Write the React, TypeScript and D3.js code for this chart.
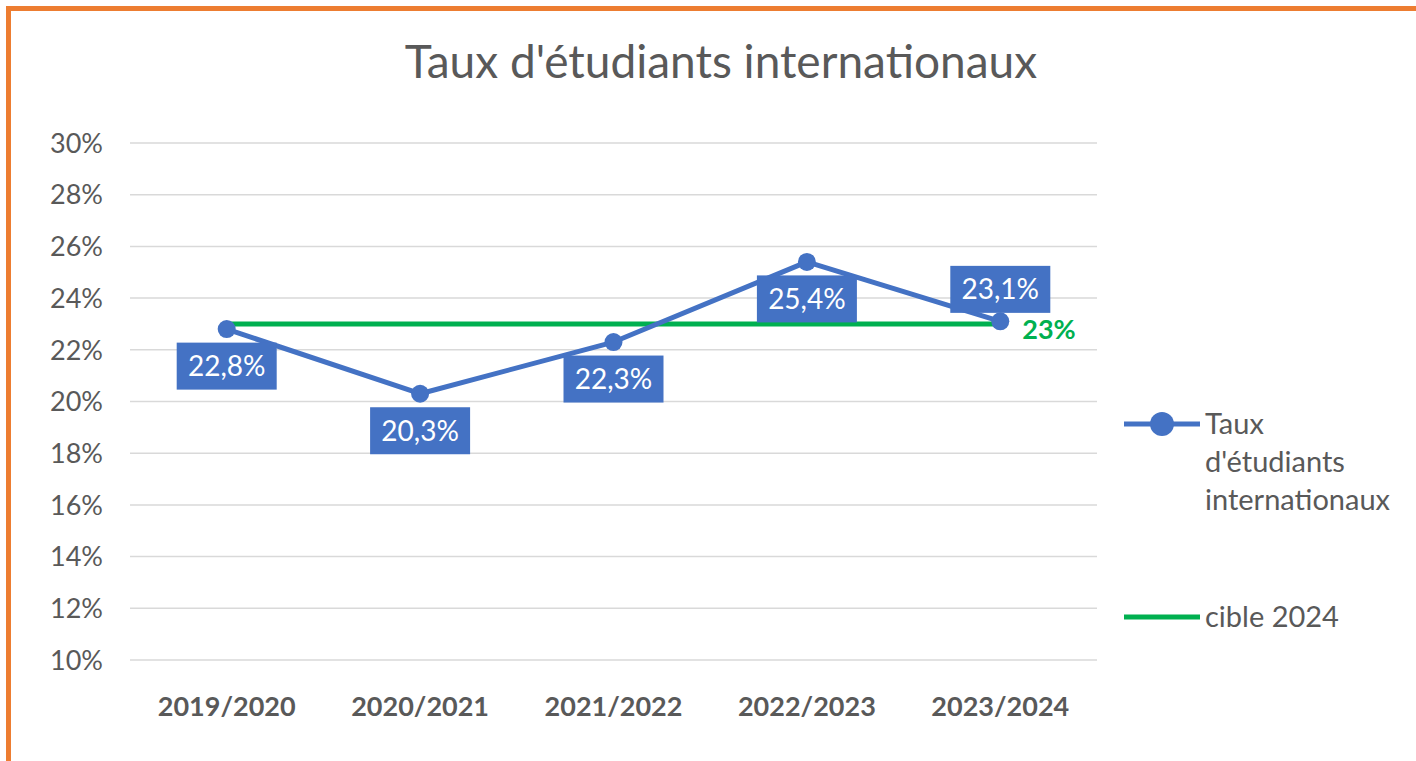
import { useEffect } from 'react';
import * as d3 from 'd3';

const categories = ['2019/2020', '2020/2021', '2021/2022', '2022/2023', '2023/2024'];
const rates = [22.8, 20.3, 22.3, 25.4, 23.1];
const rateLabels = ['22,8%', '20,3%', '22,3%', '25,4%', '23,1%'];
const labelAbove = [false, false, false, false, true];
const target = [23, 23, 23, 23, 23];
const yTicks = [10, 12, 14, 16, 18, 20, 22, 24, 26, 28, 30];

const W = 1416;
const H = 761;
const FONT = 'Lato, "Open Sans", sans-serif';
const BLUE = '#4472C4';
const GREEN = '#00B050';
const GREY = '#595959';

export default function App() {
  useEffect(() => {
    document.body.style.margin = '0';
  }, []);

  const x = d3.scaleBand().domain(categories).range([130, 1097]);
  const y = d3.scaleLinear().domain([10, 30]).range([660, 143]);
  const cx = (i: number) => (x(categories[i]) ?? 0) + x.bandwidth() / 2;

  const line = d3
    .line<number>()
    .x((_, i) => cx(i))
    .y((v) => y(v));

  const boxW = 100;
  const boxH = 47;

  return (
    <svg width={W} height={H} style={{ display: 'block', background: '#fff' }} fontFamily={FONT}>
      <rect x={8.5} y={8.5} width={W + 20} height={H + 20} fill="#fff" stroke="#ED7D31" strokeWidth={5} />

      <text x={721} y={78} textAnchor="middle" fontSize={46} fill={GREY}>
        Taux d'étudiants internationaux
      </text>

      {yTicks.map((t) => (
        <g key={t}>
          <line x1={130} x2={1097} y1={y(t)} y2={y(t)} stroke="#D9D9D9" strokeWidth={1.5} />
          <text x={103} y={y(t)} dy="0.36em" textAnchor="end" fontSize={27} fill={GREY}>
            {t}%
          </text>
        </g>
      ))}

      {categories.map((c, i) => (
        <text key={c} x={cx(i)} y={706} dy="0.36em" textAnchor="middle" fontSize={27} fontWeight="bold" fill={GREY}>
          {c}
        </text>
      ))}

      <path d={line(target) || ''} fill="none" stroke={GREEN} strokeWidth={5} />
      <text x={cx(4) + 22} y={y(target[4])} dy="0.55em" fontSize={27} fontWeight="bold" fill={GREEN}>
        23%
      </text>

      <path d={line(rates) || ''} fill="none" stroke={BLUE} strokeWidth={5} strokeLinejoin="round" />
      {rates.map((v, i) => (
        <circle key={i} cx={cx(i)} cy={y(v)} r={9} fill={BLUE} />
      ))}

      {rates.map((v, i) => {
        const cy = labelAbove[i] ? y(v) - 32 : y(v) + 37;
        return (
          <g key={`l${i}`}>
            <rect x={cx(i) - boxW / 2} y={cy - boxH / 2} width={boxW} height={boxH} fill={BLUE} />
            <text x={cx(i)} y={cy} dy="0.36em" textAnchor="middle" fontSize={28} fill="#fff">
              {rateLabels[i]}
            </text>
          </g>
        );
      })}

      <g>
        <line x1={1124} x2={1200} y1={424} y2={424} stroke={BLUE} strokeWidth={5} />
        <circle cx={1162} cy={424} r={12} fill={BLUE} />
        {['Taux', "d'étudiants", 'internationaux'].map((s, i) => (
          <text key={s} x={1205} y={424 + i * 38} dy="0.36em" fontSize={29} fill={GREY}>
            {s}
          </text>
        ))}
        <line x1={1124} x2={1200} y1={617} y2={617} stroke={GREEN} strokeWidth={5} />
        <text x={1205} y={617} dy="0.36em" fontSize={29} fill={GREY}>
          cible 2024
        </text>
      </g>
    </svg>
  );
}
